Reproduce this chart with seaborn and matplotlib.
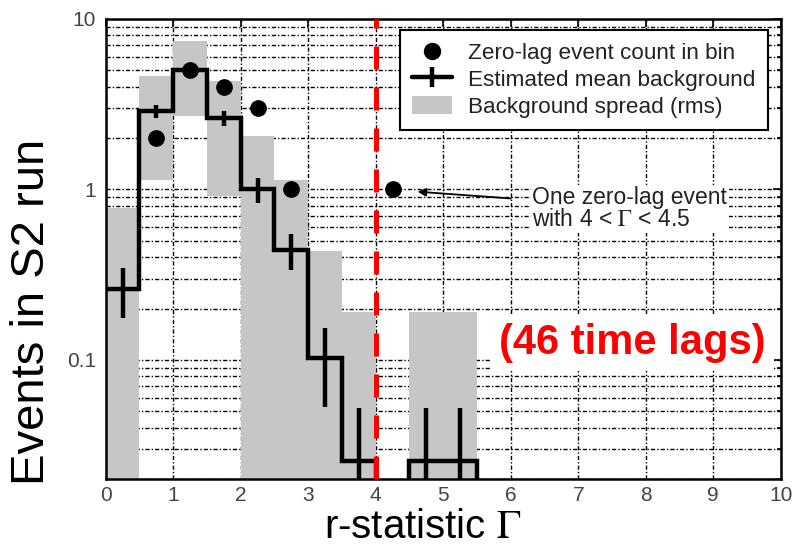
import numpy as np
import pandas as pd
import matplotlib
matplotlib.use("Agg")
import matplotlib.pyplot as plt
import seaborn as sns
from matplotlib.lines import Line2D
from matplotlib.patches import Patch
from matplotlib.ticker import LogLocator, NullFormatter

# r-statistic bins, width 0.5 from 0 to 10
bin_edges = np.arange(0, 10.5, 0.5)
bin_centers = bin_edges[:-1] + 0.25

# Estimated mean background per bin, its error and the background rms spread
bkg_mean = [0.26, 2.88, 5.05, 2.62, 1.0, 0.44, 0.103, 0.0255, 0.0, 0.0255,
            0.0255, 0, 0, 0, 0, 0, 0, 0, 0, 0]
bkg_err = [0.085, 0.25, 0.3, 0.25, 0.17, 0.105, 0.05, 0.027, 0.0, 0.027,
           0.027, 0, 0, 0, 0, 0, 0, 0, 0, 0]
bkg_rms = [0.52, 1.75, 2.35, 1.70, 1.05, 0.69, 0.33, 0.165, 0.0, 0.165,
           0.165, 0, 0, 0, 0, 0, 0, 0, 0, 0]

# Zero-lag event counts per bin
zero_lag_count = [0, 2, 5, 4, 3, 1, 0, 0, 1, 0, 0, 0, 0, 0, 0, 0, 0, 0, 0, 0]

x_ticks = list(range(0, 11))
y_ticks = [0.1, 1, 10]
y_tick_labels = ["0.1", "1", "10"]

legend_labels = ["Zero-lag event count in bin",
                 "Estimated mean background",
                 "Background spread (rms)"]

sns.set_style("white")
plt.rcParams["font.family"] = ["Liberation Sans", "DejaVu Sans"]
plt.rcParams["mathtext.fontset"] = "stix"

GRAY = "#c6c6c6"
TEXT = "#222222"

fig = plt.figure(figsize=(7.92, 5.47), dpi=100)
ax = fig.add_axes([0.1335, 0.1243, 0.8523, 0.8410])

mean = np.array(bkg_mean)
err = np.array(bkg_err)
rms = np.array(bkg_rms)
counts = np.array(zero_lag_count)

# Background spread: floating bars from mean - rms to mean + rms
has_rms = rms > 0
top = mean + rms
bottom = np.clip(mean - rms, 1e-3, None)
ax.bar(bin_centers[has_rms], (top - bottom)[has_rms], bottom=bottom[has_rms],
       width=0.5, color=GRAY, linewidth=0, zorder=1)

# Estimated mean background as a step histogram
df = pd.DataFrame({"r": bin_centers, "mean": mean})
sns.histplot(data=df, x="r", weights="mean", binwidth=0.5, binrange=(0, 10),
             element="step", fill=False, color="black", linewidth=3.2, ax=ax,
             zorder=3, solid_joinstyle="miter")

ax.set_yscale("log")

# Error on the mean background
has_mean = mean > 0
lower = np.minimum(err, mean - 1e-3)
ax.errorbar(bin_centers[has_mean], mean[has_mean],
            yerr=[lower[has_mean], err[has_mean]], fmt="none",
            ecolor="black", elinewidth=3.2, capsize=0, zorder=3)

# Zero-lag counts
has_count = counts > 0
sns.scatterplot(x=bin_centers[has_count], y=counts[has_count], color="black",
                s=145, linewidth=0, ax=ax, zorder=4)

# Threshold line
ax.axvline(4, color="#ff0000", lw=3.6, dashes=(4.6, 3.6), zorder=5)

ax.set_xlim(0, 10)
ax.set_ylim(0.02, 10)
ax.set_xticks(x_ticks)
ax.set_xticklabels([str(t) for t in x_ticks])
ax.set_yticks(y_ticks)
ax.set_yticklabels(y_tick_labels)
ax.yaxis.set_minor_locator(LogLocator(base=10, subs=np.arange(2, 10)))
ax.yaxis.set_minor_formatter(NullFormatter())

grid_style = dict(color="black", linestyle=(0, (3, 1.5, 1, 1.5)), linewidth=1.0)
ax.set_axisbelow(True)
ax.grid(which="major", axis="both", **grid_style)
ax.grid(which="minor", axis="y", **grid_style)

ax.tick_params(which="both", direction="in", top=True, right=True,
               labelsize=15, labelcolor="#444444", color="black", width=1.2)
ax.tick_params(which="major", length=6, pad=5)
ax.tick_params(which="minor", length=3)
ax.tick_params(axis="y", which="major", pad=7)

for sp in ax.spines.values():
    sp.set_color("black")
    sp.set_linewidth(1.8)

ax.set_xlabel("r-statistic $\\Gamma$", fontsize=29, color="black")
ax.xaxis.set_label_coords(0.469, -0.064)
ax.set_ylabel("Events in S2 run", fontsize=34, color="black")
ax.yaxis.set_label_coords(-0.077, 0.363)

handles = [
    Line2D([], [], marker="o", color="black", linestyle="none", markersize=11.5),
    Line2D([], [], color="black", lw=3.2, marker="|", markersize=14, mew=3.2),
    Patch(facecolor=GRAY, edgecolor="none"),
]
leg = ax.legend(handles, legend_labels, loc="upper right",
                bbox_to_anchor=(0.981, 0.976), fontsize=16.2, frameon=True,
                fancybox=False, edgecolor="black", framealpha=1,
                borderaxespad=0, handlelength=1.8, handletextpad=0.7,
                labelspacing=0.22, borderpad=0.55, handleheight=0.85)
leg.get_frame().set_linewidth(1.5)
leg.set_zorder(7)
for t in leg.get_texts():
    t.set_color(TEXT)

# Annotation for the single event above threshold
ax.annotate("", xy=(4.62, 0.97), xytext=(6.0, 0.885),
            arrowprops=dict(arrowstyle="-|>", color="black", lw=1.3,
                            mutation_scale=12, shrinkA=0, shrinkB=0),
            zorder=6)
ax.text(6.32, 0.77, "One zero-lag event\nwith 4 < $\\Gamma$ < 4.5",
        ha="left", va="center", fontsize=16.5, linespacing=0.95, color=TEXT,
        bbox=dict(facecolor="white", edgecolor="none", pad=1), zorder=6)

ax.text(7.8, 0.126, "(46 time lags)", color="#ff0000", fontsize=30,
        fontweight="bold", ha="center", va="center", zorder=8, clip_on=False,
        bbox=dict(boxstyle="square,pad=0.2", facecolor="white", edgecolor="none"))

fig.savefig("out.png", dpi=100)
